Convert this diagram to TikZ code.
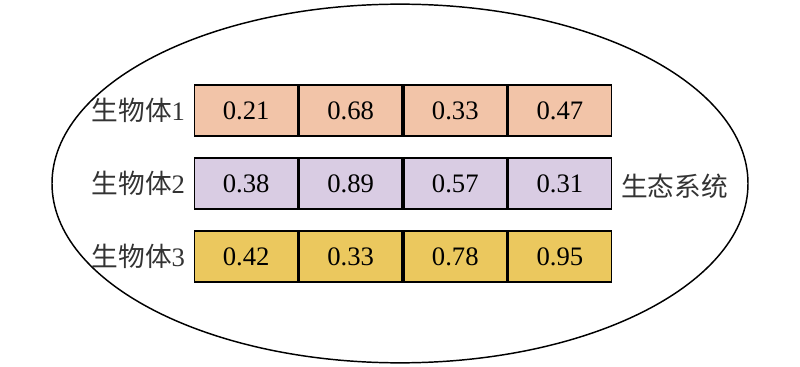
\documentclass[tikz,border=0pt]{standalone}
\usepackage{fontspec}
\setmainfont{Liberation Serif}
\newfontfamily\cjk{Noto Sans CJK SC}
\usetikzlibrary{matrix}
\usetikzlibrary{positioning}
\definecolor{salmon}{HTML}{F2C4A8}
\definecolor{lavender}{HTML}{D9CCE3}
\definecolor{gold}{HTML}{EBC85E}
\tikzstyle{cell} = [rectangle, draw=black, line width=1.2pt, outer sep=0pt, inner sep=0pt, minimum width=77.25pt, minimum height=38.5pt, text centered, font=\fontsize{20}{24}\selectfont]
\tikzstyle{gene1} = [cell, fill=salmon]
\tikzstyle{gene2} = [cell, fill=lavender]
\tikzstyle{gene3} = [cell, fill=gold]
\tikzstyle{organism} = [inner sep=0pt, text=black!80, font=\fontsize{20}{24}\selectfont]

\begin{document}
\begin{tikzpicture}[x=0.75pt, y=-0.75pt]

    \useasboundingbox (0,0) rectangle (800,367);

    % ecosystem boundary
    \draw [line width=1.1pt] (400,183.5) ellipse [x radius=261pt, y radius=134.5pt];

    \matrix [column sep=0pt, row sep=15pt] at (403,183.5) {
        \node (c11) [gene1] {0.21}; &
        \node (c12) [gene1] {0.68}; &
        \node (c13) [gene1] {0.33}; &
        \node (c14) [gene1] {0.47}; \\

        \node (c21) [gene2] {0.38}; &
        \node (c22) [gene2] {0.89}; &
        \node (c23) [gene2] {0.57}; &
        \node (c24) [gene2] {0.31}; \\

        \node (c31) [gene3] {0.42}; &
        \node (c32) [gene3] {0.33}; &
        \node (c33) [gene3] {0.78}; &
        \node (c34) [gene3] {0.95}; \\
    };

    \node (org1) [organism, left=7pt of c11] {{\cjk 生物体}1};
    \node (org2) [organism, left=7pt of c21] {{\cjk 生物体}2};
    \node (org3) [organism, left=7pt of c31] {{\cjk 生物体}3};

    \node (eco) [organism, right=7pt of c24, yshift=-2pt] {\cjk 生态系统};

\end{tikzpicture}
\end{document}
